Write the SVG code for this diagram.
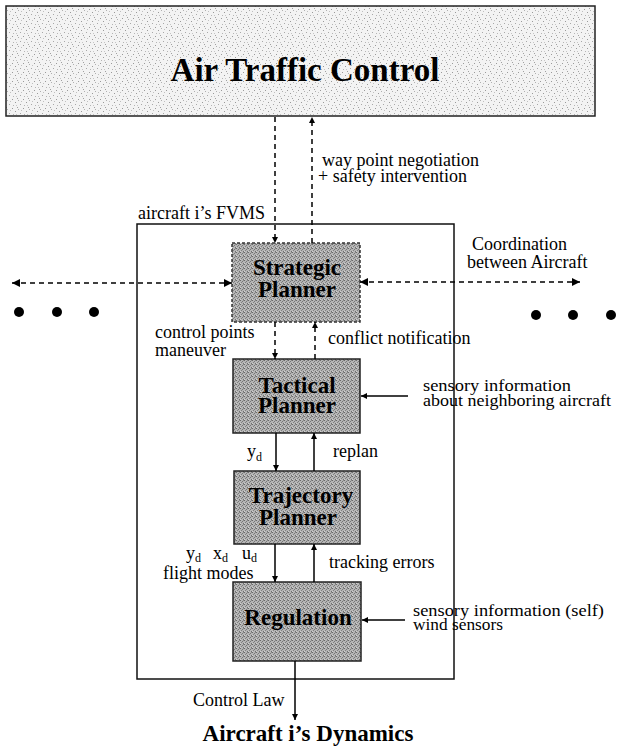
<svg xmlns="http://www.w3.org/2000/svg" width="618" height="749" viewBox="0 0 618 749">
<style>
text{font-family:"Liberation Serif","Times New Roman",serif;fill:#000}
.lbl{font-size:18px}
.sm{font-size:16.5px}
.box{font-size:23px;font-weight:bold;text-anchor:middle}
.ln{stroke:#000;stroke-width:1.5;fill:none}
.dash{stroke-dasharray:5 4}
.sub{font-size:12px}
</style>
<defs>
<pattern id="dither" width="4" height="4" patternUnits="userSpaceOnUse">
<rect width="4" height="4" fill="#b5b5b5"/>
<rect x="0" y="0" width="1" height="1" fill="#6a6a6a"/>
<rect x="2" y="1" width="1" height="1" fill="#777"/>
<rect x="1" y="2" width="1" height="1" fill="#808080"/>
<rect x="3" y="3" width="1" height="1" fill="#707070"/>
<rect x="3" y="0" width="1" height="1" fill="#8a8a8a"/>
<rect x="0" y="3" width="1" height="1" fill="#d0d0d0"/>
</pattern>
<pattern id="noise" width="11" height="9" patternUnits="userSpaceOnUse">
<rect width="11" height="9" fill="#f3f3f3"/>
<rect x="1" y="0" width="1" height="1" fill="#9a9a9a"/>
<rect x="7" y="1" width="1" height="1" fill="#b0b0b0"/>
<rect x="4" y="3" width="1" height="1" fill="#9a9a9a"/>
<rect x="9" y="5" width="1" height="1" fill="#a8a8a8"/>
<rect x="2" y="6" width="1" height="1" fill="#b5b5b5"/>
<rect x="6" y="8" width="1" height="1" fill="#a0a0a0"/>
<rect x="10" y="2" width="1" height="1" fill="#c0c0c0"/>
<rect x="5" y="6" width="1" height="1" fill="#c5c5c5"/>
</pattern>
<marker id="ah" viewBox="0 0 10 10" refX="10" refY="5" markerWidth="8" markerHeight="6" markerUnits="userSpaceOnUse" orient="auto">
<path d="M0,0 L10,5 L0,10 z" fill="#000"/>
</marker>
<marker id="ahL" viewBox="0 0 10 10" refX="10" refY="5" markerWidth="15" markerHeight="8" markerUnits="userSpaceOnUse" orient="auto-start-reverse">
<path d="M0,0 L10,5 L0,10 z" fill="#000"/>
</marker>
</defs>
<rect width="618" height="749" fill="#fff"/>

<g id="atc">
<rect x="6" y="6" width="589" height="110" fill="url(#noise)" stroke="#222" stroke-width="1.5"/>
<text x="305" y="81" style="font-size:33px;font-weight:bold;text-anchor:middle">Air Traffic Control</text>
</g>

<g id="fvms">
<rect x="137" y="224" width="317" height="455" fill="none" stroke="#111" stroke-width="1.5"/>
<text class="lbl" x="138" y="219">aircraft i’s FVMS</text>
</g>

<g id="strategic">
<rect x="232" y="243" width="128" height="79" fill="url(#dither)" stroke="#333" stroke-width="1.5" stroke-dasharray="3 2"/>
<text class="box" x="297" y="275">Strategic</text>
<text class="box" x="297" y="297">Planner</text>
</g>

<g id="tactical">
<rect x="233" y="359" width="127" height="74" fill="url(#dither)" stroke="#222" stroke-width="1.5"/>
<text class="box" x="297" y="393">Tactical</text>
<text class="box" x="297" y="413">Planner</text>
</g>

<g id="trajectory">
<rect x="234" y="471" width="126" height="73" fill="url(#dither)" stroke="#222" stroke-width="1.5"/>
<text class="box" x="301" y="503">Trajectory</text>
<text class="box" x="298" y="525">Planner</text>
</g>

<g id="regulation">
<rect x="233" y="582" width="128" height="79" fill="url(#dither)" stroke="#222" stroke-width="1.5"/>
<text class="box" x="298" y="625">Regulation</text>
</g>

<g id="dynamics">
<text x="308" y="741" style="font-size:23px;font-weight:bold;text-anchor:middle">Aircraft i’s Dynamics</text>
</g>

<g id="dots-left">
<circle cx="19" cy="312" r="5"/>
<circle cx="57" cy="312" r="5"/>
<circle cx="94" cy="312" r="5"/>
</g>
<g id="dots-right">
<circle cx="536" cy="315" r="5"/>
<circle cx="573" cy="315" r="5"/>
<circle cx="611" cy="315" r="5"/>
</g>

<g id="connectors">
<line class="ln dash" x1="275" y1="117" x2="275" y2="243" marker-end="url(#ah)"/>
<line class="ln dash" x1="312" y1="243" x2="312" y2="117" marker-end="url(#ah)"/>
<line class="ln dash" x1="275" y1="322" x2="275" y2="359" marker-end="url(#ah)"/>
<line class="ln dash" x1="315" y1="359" x2="315" y2="322" marker-end="url(#ah)"/>
<line class="ln" x1="276" y1="433" x2="276" y2="471" marker-end="url(#ah)"/>
<line class="ln" x1="314" y1="471" x2="314" y2="433" marker-end="url(#ah)"/>
<line class="ln" x1="275" y1="544" x2="275" y2="582" marker-end="url(#ah)"/>
<line class="ln" x1="314" y1="582" x2="314" y2="544" marker-end="url(#ah)"/>
<line class="ln" x1="295" y1="661" x2="295" y2="720" marker-end="url(#ah)"/>
<line class="ln" x1="408" y1="396" x2="361" y2="396" marker-end="url(#ah)"/>
<line class="ln" x1="405" y1="620" x2="362" y2="620" marker-end="url(#ah)"/>
<line class="ln dash" x1="12" y1="283" x2="232" y2="283" marker-start="url(#ahL)" marker-end="url(#ahL)"/>
<line class="ln dash" x1="360" y1="282" x2="580" y2="282" marker-start="url(#ahL)" marker-end="url(#ahL)"/>
</g>

<g id="labels">
<text class="lbl" x="322" y="166">way point negotiation</text>
<text class="lbl" x="318" y="182">+ safety intervention</text>
<text class="lbl" x="472" y="250">Coordination</text>
<text class="lbl" x="467" y="268">between Aircraft</text>
<text class="lbl" x="155" y="338">control points</text>
<text class="lbl" x="155" y="356">maneuver</text>
<text class="lbl" x="328" y="344">conflict notification</text>
<text class="lbl sm" x="423" y="391" textLength="148" lengthAdjust="spacingAndGlyphs">sensory information</text>
<text class="lbl sm" x="423" y="406" textLength="188" lengthAdjust="spacingAndGlyphs">about neighboring aircraft</text>
<text class="lbl" x="247" y="457">y<tspan class="sub" dy="4">d</tspan></text>
<text class="lbl" x="333" y="457">replan</text>
<text class="lbl" x="186" y="559">y<tspan class="sub" dy="3">d</tspan></text>
<text class="lbl" x="213" y="559">x<tspan class="sub" dy="3">d</tspan></text>
<text class="lbl" x="242" y="559">u<tspan class="sub" dy="3">d</tspan></text>
<text class="lbl" x="163" y="579">flight modes</text>
<text class="lbl" x="329" y="568">tracking errors</text>
<text class="lbl sm" x="413" y="616" textLength="191" lengthAdjust="spacingAndGlyphs">sensory information (self)</text>
<text class="lbl sm" x="413" y="630" textLength="90" lengthAdjust="spacingAndGlyphs">wind sensors</text>
<text class="lbl" x="193" y="706">Control Law</text>
</g>
</svg>
